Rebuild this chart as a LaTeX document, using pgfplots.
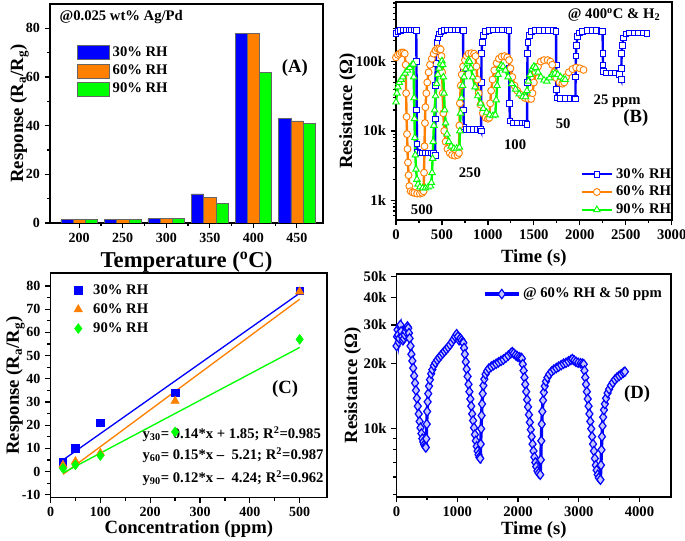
\documentclass[border=0pt]{standalone}
\usepackage{fontspec}
\setmainfont{Liberation Serif}
\usepackage{pgfplots}
\pgfplotsset{compat=1.18}
\definecolor{cblue}{RGB}{0,0,255}
\definecolor{corange}{RGB}{255,128,0}
\definecolor{cgreen}{RGB}{0,255,0}
\newcommand{\fs}[1]{\fontsize{#1}{#1}\selectfont\bfseries}
\pgfplotsset{
  panel/.style={
    scale only axis, anchor=south west,
    axis line style={line width=1.3pt},
    every tick/.style={line width=0.9pt, black},
    major tick length=4pt, minor tick length=2.4pt,
    tick align=outside, tick pos=left,
    /pgf/number format/assume math mode=true,
    /pgf/number format/1000 sep={},
    scaled ticks=false,
    tick label style={font=\fs{10.5}},
    label style={font=\fs{14}},
    legend cell align=left,
  },
  barleg/.style={legend image code/.code={\draw[##1] (0pt,-5.2pt) rectangle (24pt,5.2pt);}},
  cleg/.style={legend image code/.code={\draw[##1, only marks] plot coordinates {(4pt,0pt)}; \path (-2pt,0pt) (13pt,0pt);}},
}
\begin{document}
\begin{tikzpicture}
\path[use as bounding box] (0,0) rectangle (513.75pt,405.75pt);
% ---------------- (A)
\begin{axis}[panel, at={(37.5pt,238.5pt)}, width=204.75pt, height=164.25pt,
  xmin=166.5, xmax=480, ymin=0, ymax=90,
  xtick={200,250,...,450}, minor x tick num=1,
  ytick={0,20,...,80}, minor y tick num=1,
  xlabel={Temperature (\textsuperscript{o}C)},
  ylabel={Response (R\textsubscript{a}/R\textsubscript{g})},
  xlabel style={font=\fs{17}}, ylabel shift=-9pt,
  legend style={draw=none, fill=none, at={(0.085,0.83)}, anchor=north west, font=\fs{11}, row sep=0.8pt},
]
\addplot[ybar, bar width=14, bar shift=-14, fill=cblue, draw=black!60, barleg] coordinates {(200,1.5) (250,1.5) (300,1.8) (350,12) (400,78) (450,43)};
\addlegendentry{30\% RH}
\addplot[ybar, bar width=14, bar shift=0, fill=corange, draw=black!60, barleg] coordinates {(200,1.5) (250,1.5) (300,1.8) (350,10.5) (400,78) (450,42)};
\addlegendentry{60\% RH}
\addplot[ybar, bar width=14, bar shift=14, fill=cgreen, draw=black!60, barleg] coordinates {(200,1.5) (250,1.5) (300,1.8) (350,8) (400,62) (450,41)};
\addlegendentry{90\% RH}
\node[font=\fs{11}, anchor=west] at (rel axis cs:0.018,0.94) {@0.025 wt\% Ag/Pd};
\node[font=\fs{14}] at (rel axis cs:0.897,0.708) {(A)};
\end{axis}
% ---------------- (B)
\begin{axis}[panel, at={(297pt,240.75pt)}, width=206.8pt, height=163.7pt,
  xmin=0, xmax=3000, ymode=log, ymin=520, ymax=730000,
  xtick={0,500,...,3000}, minor x tick num=1,
  ytick={1000,10000,100000}, yticklabels={1k,10k,100k},
  minor ytick={600,700,800,900,2000,3000,4000,5000,6000,7000,8000,9000,20000,30000,40000,50000,60000,70000,80000,90000,200000,300000,400000,500000,600000,700000},
  tick label style={font=\fs{11}},
  xlabel={Time (s)}, ylabel={Resistance (Ω)}, ylabel shift=-7pt,
  legend style={draw=none, fill=none, at={(0.653,0.262)}, anchor=north west, font=\fs{11}, row sep=0.5pt},
  legend image code/.code={\draw[#1, mark repeat=2, mark phase=2] plot coordinates {(0pt,0pt) (11.5pt,0pt) (23pt,0pt)};},
]
\addplot[cblue, line width=1.8pt, mark=square*, mark size=2.1pt, mark options={solid, fill=white, line width=0.6pt}] coordinates {
(0,255000) (20,270000) (50,280000) (80,285000) (110,285000) (140,285000) (170,285000) (200,285000) (220,280000)
(223,100000) (225,20000) (228,6500) (235,5000) (260,4800) (290,4800) (320,4800) (350,4800) (380,4800) (410,4700) (426,4400)
(428,15000) (430,45000) (433,95000) (437,140000) (445,190000) (455,220000) (470,250000) (490,270000) (520,280000) (560,285000) (600,285000) (640,285000) (680,285000) (715,285000) (730,280000)
(732,80000) (734,20000) (738,11500) (760,10500) (800,10500) (840,10500) (880,10500) (920,10500) (926,10000)
(928,50000) (931,130000) (937,190000) (950,240000) (975,270000) (1010,280000) (1060,285000) (1110,285000) (1160,285000) (1210,285000) (1230,280000)
(1232,80000) (1234,25000) (1240,14000) (1270,13000) (1320,13000) (1370,13000) (1410,13000) (1426,12500)
(1428,50000) (1431,130000) (1437,190000) (1450,240000) (1475,270000) (1510,280000) (1560,280000) (1610,280000) (1660,280000) (1710,280000) (1741,275000)
(1743,90000) (1745,40000) (1750,30000) (1790,29500) (1840,29500) (1890,29500) (1940,29500) (1952,29000)
(1954,60000) (1957,120000) (1962,170000) (1975,230000) (1995,260000) (2030,275000) (2080,280000) (2130,280000) (2180,280000) (2230,275000) (2248,270000)
(2250,130000) (2253,90000) (2258,72000) (2290,69000) (2340,69000) (2390,69000) (2430,65000) (2450,55000)
(2452,80000) (2455,130000) (2460,170000) (2475,220000) (2500,250000) (2540,260000) (2590,260000) (2640,260000) (2690,260000) (2730,255000)};
\addlegendentry{30\% RH}
\addplot[corange, line width=1.8pt, mark=*, mark size=2.6pt, mark options={solid, fill=white, line width=0.7pt}] coordinates {
(0,115000) (20,125000) (40,130000) (60,135000) (80,135000) (95,130000) (105,90000) (110,35000) (115,16000) (120,9000) (125,5500) (130,3500) (137,2300) (145,1600) (160,1350) (180,1300) (200,1280) (230,1250) (260,1250) (285,1280) (300,1350)
(305,2500) (310,6000) (315,13000) (320,22000) (330,35000) (340,50000) (355,70000) (370,90000) (390,110000) (410,130000) (430,145000) (450,155000) (470,155000) (485,150000)
(495,120000) (502,70000) (508,35000) (515,18000) (525,10000) (540,7000) (560,5500) (585,4800) (610,4500) (640,4400) (670,4500) (685,4800)
(690,12000) (695,25000) (705,45000) (715,65000) (730,85000) (750,105000) (770,120000) (790,130000) (820,132000) (850,130000) (865,120000)
(875,85000) (885,55000) (900,35000) (920,24000) (945,18000) (975,15500) (1000,15000) (1015,15500)
(1025,25000) (1035,38000) (1050,55000) (1070,75000) (1095,95000) (1120,110000) (1150,118000) (1180,120000) (1210,115000) (1230,105000)
(1245,80000) (1265,60000) (1290,45000) (1320,38000) (1360,33000) (1400,30000) (1440,29000) (1470,29000)
(1485,35000) (1500,50000) (1520,70000) (1545,85000) (1575,100000) (1610,105000) (1650,105000) (1680,100000) (1700,90000)
(1720,70000) (1745,58000) (1780,50000) (1810,48000) (1830,50000) (1850,60000) (1880,70000) (1920,78000) (1960,82000) (2000,80000) (2040,76000)};
\addlegendentry{60\% RH}
\addplot[cgreen, line width=1.8pt, mark=triangle*, mark size=2.8pt, mark options={solid, fill=white, line width=0.7pt}] coordinates {
(0,26000) (10,35000) (20,43000) (35,50000) (55,55000) (75,60000) (100,68000) (125,75000) (150,82000) (175,90000) (188,92000)
(193,60000) (197,30000) (201,15000) (205,8000) (210,4500) (218,2800) (228,2000) (240,1700) (260,1550) (290,1500) (320,1500) (350,1550) (375,1600)
(385,1800) (392,2500) (398,4000) (405,7000) (412,12000) (420,20000) (430,32000) (442,48000) (455,65000) (470,80000) (485,95000) (500,102000)
(508,90000) (515,60000) (522,35000) (530,20000) (540,13000) (555,9000) (575,7000) (600,6000) (630,5600) (660,5600) (690,5800)
(695,10000) (702,18000) (712,30000) (725,45000) (740,60000) (758,78000) (775,95000) (790,105000) (800,100000)
(815,80000) (835,60000) (860,43000) (890,32000) (920,25000) (950,21000) (985,18500) (1020,17000) (1055,16500) (1080,17000)
(1090,28000) (1100,45000) (1110,65000) (1125,80000) (1145,88000) (1165,85000) (1190,75000) (1220,60000) (1260,48000) (1300,40000) (1340,34000) (1380,31000) (1410,31000)
(1425,38000) (1440,52000) (1460,65000) (1480,78000) (1500,85000) (1520,82000) (1545,70000) (1575,60000) (1610,54000) (1640,52000) (1670,58000) (1700,65000) (1730,68000) (1760,65000) (1790,60000) (1820,56000) (1840,55000)};
\addlegendentry{90\% RH}
\node[font=\fs{11}] at (rel axis cs:0.791,0.939) {@ 400\textsuperscript{o}C \& H\textsubscript{2}};
\node[font=\fs{11}] at (rel axis cs:0.094,0.046) {500};
\node[font=\fs{11}] at (rel axis cs:0.268,0.215) {250};
\node[font=\fs{11}] at (rel axis cs:0.432,0.344) {100};
\node[font=\fs{11}] at (rel axis cs:0.606,0.44) {50};
\node[font=\fs{11}] at (rel axis cs:0.802,0.545) {25 ppm};
\node[font=\fs{14}] at (rel axis cs:0.87,0.467) {(B)};
\end{axis}
% ---------------- (C)
\begin{axis}[panel, at={(37.9pt,32.6pt)}, width=207.4pt, height=168.2pt,
  xmin=0, xmax=555, ymin=-11.2, ymax=85.5,
  xtick={0,100,...,500}, minor x tick num=1,
  ytick={-10,0,...,80}, minor y tick num=1,
  xlabel={Concentration (ppm)}, xlabel shift=-4.5pt,
  ylabel={Response (R\textsubscript{a}/R\textsubscript{g})}, ylabel shift=-9pt,
  legend style={draw=none, fill=none, at={(0.055,0.975)}, anchor=north west, font=\fs{11}, row sep=1.5pt},
]
\addplot[only marks, mark=square*, mark size=2.8pt, cblue, cleg] coordinates {(25,4.0) (50,10.0) (100,21.0) (250,33.9) (500,78.0)};
\addlegendentry{30\% RH}
\addplot[only marks, mark=triangle*, mark size=3.6pt, corange, cleg] coordinates {(25,2.8) (50,4.4) (100,8.0) (250,30.4) (500,77.6)};
\addlegendentry{60\% RH}
\addplot[only marks, mark=diamond*, mark size=3.7pt, cgreen, cleg] coordinates {(25,1.4) (50,2.9) (100,6.9) (250,17.1) (500,57.0)};
\addlegendentry{90\% RH}
\addplot[cblue, line width=1pt, forget plot] coordinates {(25,5.0) (500,76.9)};
\addplot[corange, line width=1pt, forget plot] coordinates {(25,-1.2) (500,74.3)};
\addplot[cgreen, line width=1pt, forget plot] coordinates {(25,-0.6) (500,53.5)};
\node[font=\fs{14}] at (rel axis cs:0.848,0.484) {(C)};
\node[font=\fs{11}, anchor=west] at (rel axis cs:0.316,0.283) {y\textsubscript{30}= 0.14*x + 1.85; R\textsuperscript{2}=0.985};
\node[font=\fs{11}, anchor=west] at (rel axis cs:0.316,0.19) {y\textsubscript{60}= 0.15*x –\ \ 5.21; R\textsuperscript{2}=0.987};
\node[font=\fs{11}, anchor=west] at (rel axis cs:0.316,0.087) {y\textsubscript{90}= 0.12*x –\ \ 4.24; R\textsuperscript{2}=0.962};
\end{axis}
% ---------------- (D)
\begin{axis}[panel, at={(297.4pt,33.2pt)}, width=205.9pt, height=167pt,
  xmin=0, xmax=4520, ymode=log, ymin=4870, ymax=51400,
  xtick={0,1000,...,4000}, minor x tick num=1,
  ytick={10000,20000,30000,40000,50000}, yticklabels={10k,20k,30k,40k,50k},
  minor ytick={5000,6000,7000,8000,9000},
  tick label style={font=\fs{11}},
  xlabel={Time (s)}, xlabel shift=-3pt,
  ylabel={Resistance (Ω)}, ylabel shift=-5pt,
  legend style={draw=none, fill=none, at={(0.3,0.91)}, anchor=west, font=\fs{11}},
  legend image code/.code={\draw[#1, mark repeat=2, mark phase=2] plot coordinates {(0pt,0pt) (12.75pt,0pt) (25.5pt,0pt)};},
]
\addplot[cblue, line width=2.4pt, mark=diamond*, mark size=3.5pt, mark options={solid, fill=cblue!22, draw=cblue, line width=0.9pt}] coordinates {
(0,24000) (8,26500) (16,28500) (25,27000) (35,25000) (45,26000) (55,29500) (65,30000) (75,28000) (90,26500) (105,25500) (120,26000) (135,27000) (150,28000) (165,29000) (180,29500) (193,29000)
(205,27500) (215,26000) (230,24000) (245,22000) (260,20500) (275,19000) (290,17500) (305,16200) (320,15000) (335,13800) (350,12700) (365,11700) (380,10800) (395,10100) (410,9500) (425,9000) (440,8700) (455,8450) (470,8300) (482,8200)
(490,9000) (497,10500) (504,12000) (512,13300) (522,14500) (535,15700) (550,16800) (570,17900) (590,18700) (615,19500) (640,20100) (670,20700) (700,21200) (730,21700) (760,22200) (790,22700) (820,23200) (850,23700) (880,24300) (910,25000) (940,25800) (965,26500) (990,27200) (1010,26500) (1030,25500) (1050,26000) (1070,25500) (1090,25000) (1100,24800)
(1112,23500) (1125,22000) (1140,20300) (1155,18800) (1170,17400) (1185,16000) (1200,14800) (1215,13700) (1230,12700) (1245,11700) (1260,10900) (1275,10100) (1290,9400) (1305,8800) (1320,8300) (1335,7900) (1350,7600) (1365,7400) (1378,7300)
(1386,8500) (1393,10000) (1400,11500) (1408,13000) (1418,14500) (1430,15800) (1445,16900) (1465,17800) (1490,18400) (1520,18900) (1560,19300) (1600,19600) (1640,19900) (1680,20200) (1720,20500) (1760,20800) (1800,21200) (1840,21700) (1880,22200) (1905,22500) (1930,22200) (1960,21800) (1990,21500) (2020,21300) (2050,21200) (2065,21000)
(2078,19800) (2092,18500) (2106,17200) (2120,16000) (2135,14800) (2150,13600) (2165,12600) (2180,11600) (2195,10700) (2210,9900) (2225,9200) (2240,8500) (2255,7900) (2270,7400) (2285,7000) (2300,6700) (2320,6400) (2340,6250) (2366,6150)
(2375,7200) (2383,8800) (2391,10500) (2400,12000) (2412,13500) (2425,14700) (2440,15700) (2460,16500) (2485,17200) (2515,17800) (2550,18300) (2590,18700) (2630,19000) (2670,19300) (2710,19600) (2750,19900) (2790,20100) (2830,20400) (2870,20700) (2895,20900) (2925,20600) (2955,20300) (2990,20100) (3030,20000) (3060,19900) (3082,19800)
(3094,18500) (3107,17200) (3120,16000) (3134,14800) (3148,13700) (3162,12700) (3176,11700) (3190,10800) (3205,10000) (3220,9200) (3235,8500) (3250,7900) (3265,7300) (3280,6800) (3295,6450) (3312,6150) (3330,5950) (3357,5830)
(3366,6800) (3374,8000) (3382,9200) (3391,10300) (3402,11300) (3415,12200) (3430,13000) (3450,13800) (3475,14600) (3500,15200) (3530,15800) (3560,16300) (3595,16800) (3630,17200) (3665,17500) (3700,17800) (3735,18100) (3760,18300)};
\addlegendentry{@ 60\% RH \& 50 ppm}
\node[font=\fs{14}] at (rel axis cs:0.876,0.461) {(D)};
\end{axis}
\end{tikzpicture}
\end{document}
